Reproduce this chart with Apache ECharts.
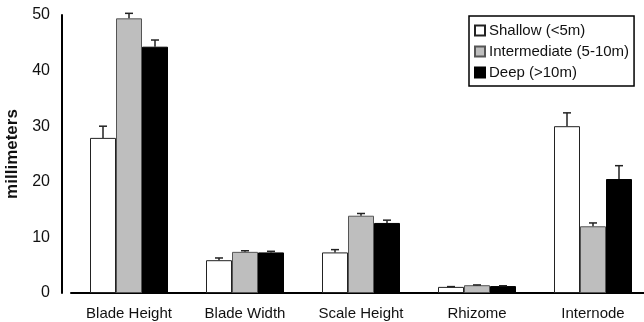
<!DOCTYPE html>
<html>
<head>
<meta charset="utf-8">
<script src="https://cdn.jsdelivr.net/npm/echarts@6/dist/echarts.min.js"></script>
<style>
html,body{margin:0;padding:0;background:#fff;}
#chart{width:644px;height:322px;}
</style>
</head>
<body>
<div id="chart"></div>
<script>
const categories = ['Blade Height', 'Blade Width', 'Scale Height', 'Rhizome', 'Internode'];
const seriesNames = ['Shallow (<5m)', 'Intermediate (5-10m)', 'Deep (>10m)'];
const shallow = [27.9, 5.9, 7.3, 1.1, 30.0];
const intermediate = [49.4, 7.4, 13.9, 1.4, 12.0];
const deep = [44.3, 7.3, 12.6, 1.25, 20.5];
const shallowSE = [2.1, 0.4, 0.5, 0.05, 2.4];
const intermediateSE = [0.9, 0.2, 0.4, 0.05, 0.6];
const deepSE = [1.2, 0.2, 0.5, 0.05, 2.4];
const yTicks = [0, 10, 20, 30, 40, 50];

const BAR_W = 26;
const colors = ['#ffffff', '#bebebe', '#000000'];
const borders = ['#222222', '#555555', '#000000'];
const means = [shallow, intermediate, deep];
const ses = [shallowSE, intermediateSE, deepSE];

const chart = echarts.init(document.getElementById('chart'));
const font = 'Liberation Sans, Arial, sans-serif';

const series = [];
means.forEach((m, k) => {
  series.push({
    name: seriesNames[k],
    type: 'bar',
    data: m,
    barWidth: BAR_W,
    barGap: '0%',
    itemStyle: { color: colors[k], borderColor: borders[k], borderWidth: 1 },
    emphasis: { disabled: true }
  });
});
means.forEach((m, k) => {
  series.push({
    type: 'custom',
    silent: true,
    z: 5,
    data: m.map((v, i) => [i, v, v + ses[k][i]]),
    renderItem: function (params, api) {
      const base = api.coord([api.value(0), api.value(1)]);
      const top = api.coord([api.value(0), api.value(2)]);
      const x = base[0] + (k - 1) * BAR_W;
      return {
        type: 'group',
        children: [
          { type: 'line', shape: { x1: x, y1: base[1], x2: x, y2: top[1] }, style: { stroke: '#222', lineWidth: 1.5 } },
          { type: 'line', shape: { x1: x - 4, y1: top[1], x2: x + 4, y2: top[1] }, style: { stroke: '#222', lineWidth: 1.5 } }
        ]
      };
    }
  });
});

chart.setOption({
  animation: false,
  backgroundColor: '#ffffff',
  grid: { left: 71, right: -7, top: 15, bottom: 29, outerBoundsMode: 'none', containLabel: false },
  legend: {
    data: seriesNames,
    orient: 'vertical',
    left: 469,
    top: 16,
    itemWidth: 10,
    itemHeight: 10,
    itemGap: 6,
    padding: [7, 5, 6, 5],
    borderColor: '#000',
    borderWidth: 1.5,
    backgroundColor: '#fff',
    textStyle: { fontFamily: font, fontSize: 15, color: '#111', padding: [0, 0, 0, -1] },
    icon: 'rect'
  },
  xAxis: {
    type: 'category',
    data: categories,
    axisLine: { lineStyle: { color: '#000', width: 2 } },
    axisTick: { show: false },
    axisLabel: { fontFamily: font, fontSize: 15, color: '#111', margin: 13 }
  },
  yAxis: {
    type: 'value',
    min: 0,
    max: 50,
    interval: 10,
    offset: 9,
    name: 'millimeters',
    nameLocation: 'middle',
    nameGap: 37,
    nameTextStyle: { fontFamily: font, fontSize: 17, fontWeight: 'bold', color: '#111' },
    axisLine: { show: true, lineStyle: { color: '#000', width: 2 } },
    axisTick: { show: false },
    splitLine: { show: false },
    axisLabel: { fontFamily: font, fontSize: 16, color: '#111', margin: 12,
      formatter: v => yTicks.includes(v) ? String(v) : '' }
  },
  series: series
});
</script>
</body>
</html>
